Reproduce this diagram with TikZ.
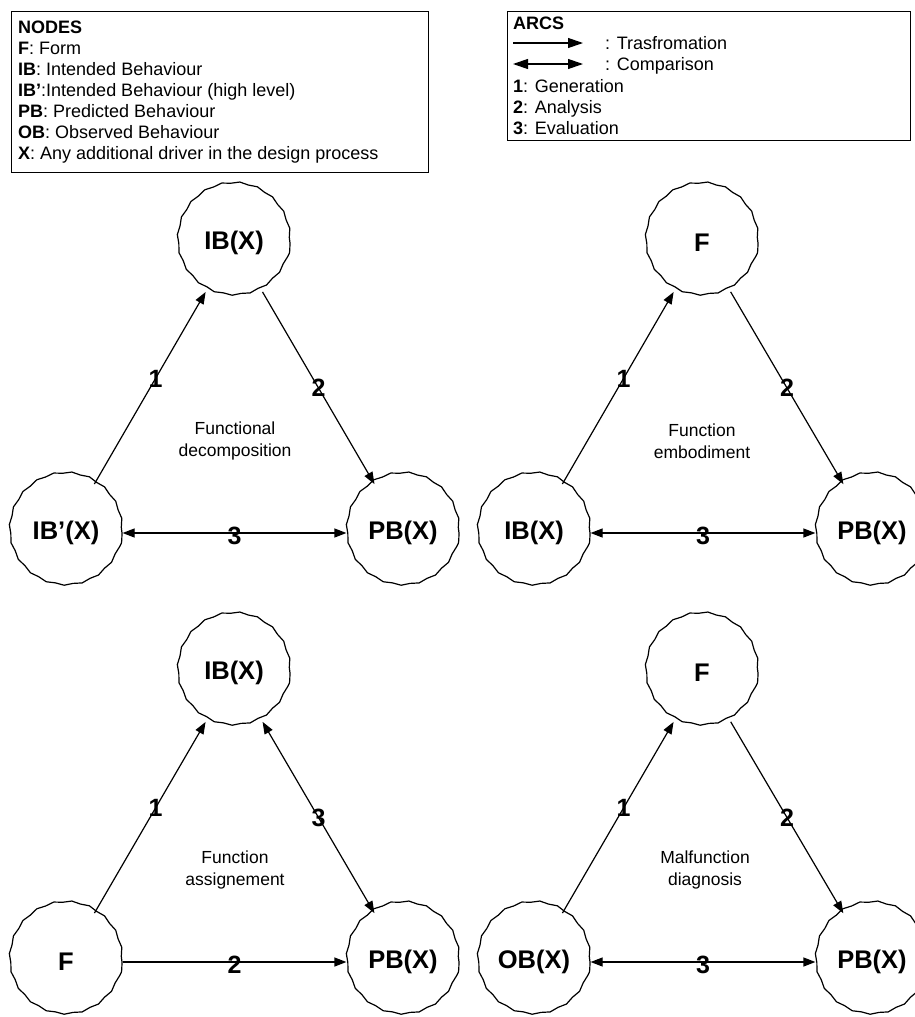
\documentclass[tikz,border=0pt]{standalone}
\usepackage{fontspec}
\setmainfont{Liberation Sans}
\usetikzlibrary{arrows.meta,decorations.pathmorphing}
\begin{document}
\begin{tikzpicture}[x=1pt,y=-1pt,
  state/.style={circle, draw, line width=1.2pt, minimum size=112pt, inner sep=0pt,
    font=\fontsize{25.5}{30}\selectfont\bfseries,
    decorate, decoration={snake, segment length=18pt, amplitude=0.7pt}},
  tip/.tip={Triangle[length=12pt,width=9pt]},
  trans/.style={line width=1.2pt, -tip},
  comp/.style={line width=1.2pt, tip-tip},
  arclab/.style={font=\fontsize{25}{30}\selectfont\bfseries, inner sep=0pt},
  caption/.style={font=\fontsize{17.5}{22}\selectfont, align=center},
  legend/.style={font=\fontsize{18}{21}\selectfont, anchor=base west, inner sep=0pt},
  legbox/.style={draw, line width=1.2pt, inner sep=0pt, anchor=north west},
  legarrow/.style={line width=1.2pt, -{Triangle[length=15pt,width=10pt]}},
  legcomp/.style={line width=1.2pt, {Triangle[length=15pt,width=10pt]}-{Triangle[length=15pt,width=10pt]}}
]
\useasboundingbox (0,0) rectangle (915,1017);
\clip (0,0) rectangle (915,1017);

% ---- node legend ----
\node[legbox, minimum width=417pt, minimum height=161pt] (nodesbox) at (11,11) {};
\node[legend] (nh) at (18,33) {\textbf{NODES}};
\node[legend] (n1) at (18,54) {\textbf{F}: Form};
\node[legend] (n2) at (18,75) {\textbf{IB}: Intended Behaviour};
\node[legend] (n3) at (18,96) {\textbf{IB'}:Intended Behaviour (high level)};
\node[legend] (n4) at (18,117) {\textbf{PB}: Predicted Behaviour};
\node[legend] (n5) at (18,138) {\textbf{OB}: Observed Behaviour};
\node[legend] (n6) at (18,159) {\textbf{X}: Any additional driver in the design process};

% ---- arc legend ----
\node[legbox, minimum width=403pt, minimum height=129pt] (arcsbox) at (507,11) {};
\node[legend] (ah) at (513,29) {\textbf{ARCS}};
\coordinate (t0) at (513,43);
\coordinate (t1) at (583,43);
\coordinate (c0) at (513,64);
\coordinate (c1) at (583,64);
\draw[legarrow] (t0) -- (t1);
\draw[legcomp] (c0) -- (c1);
\node[legend] (a1) at (605,49) {: Trasfromation};
\node[legend] (a2) at (605,70) {: Comparison};
\node[legend] (a3) at (513,92) {\textbf{1}: Generation};
\node[legend] (a4) at (513,113) {\textbf{2}: Analysis};
\node[legend] (a5) at (513,134) {\textbf{3}: Evaluation};

% ---- functional decomposition ----
\node[state] (fdT) at (234,243) {IB(X)};
\node[state] (fdL) at (66,533) {IB'(X)};
\node[state] (fdR) at (403,533) {PB(X)};
\draw[trans] (fdL) -- node[arclab, pos=0.55] {1} (fdT);
\draw[trans] (fdT) -- node[arclab] {2} (fdR);
\draw[comp] (fdL) -- node[arclab, yshift=-3pt] {3} (fdR);
\node[caption] (fdC) at (235,441) {Functional\\decomposition};

% ---- function embodiment ----
\node[state] (feT) at (702,243) {F};
\node[state] (feL) at (534,533) {IB(X)};
\node[state] (feR) at (872,533) {PB(X)};
\draw[trans] (feL) -- node[arclab, pos=0.55] {1} (feT);
\draw[trans] (feT) -- node[arclab] {2} (feR);
\draw[comp] (feL) -- node[arclab, yshift=-3pt] {3} (feR);
\node[caption] (feC) at (702,441) {Function\\embodiment};

% ---- function assignement ----
\node[state] (faT) at (234,673) {IB(X)};
\node[state] (faL) at (66,962) {F};
\node[state] (faR) at (403,962) {PB(X)};
\draw[trans] (faL) -- node[arclab, pos=0.55] {1} (faT);
\draw[comp] (faT) -- node[arclab] {3} (faR);
\draw[trans] (faL) -- node[arclab, yshift=-3pt] {2} (faR);
\node[caption] (faC) at (235,870) {Function\\assignement};

% ---- malfunction diagnosis ----
\node[state] (mdT) at (702,673) {F};
\node[state] (mdL) at (534,962) {OB(X)};
\node[state] (mdR) at (872,962) {PB(X)};
\draw[trans] (mdL) -- node[arclab, pos=0.55] {1} (mdT);
\draw[trans] (mdT) -- node[arclab] {2} (mdR);
\draw[comp] (mdL) -- node[arclab, yshift=-3pt] {3} (mdR);
\node[caption] (mdC) at (705,870) {Malfunction\\diagnosis};
\end{tikzpicture}
\end{document}
